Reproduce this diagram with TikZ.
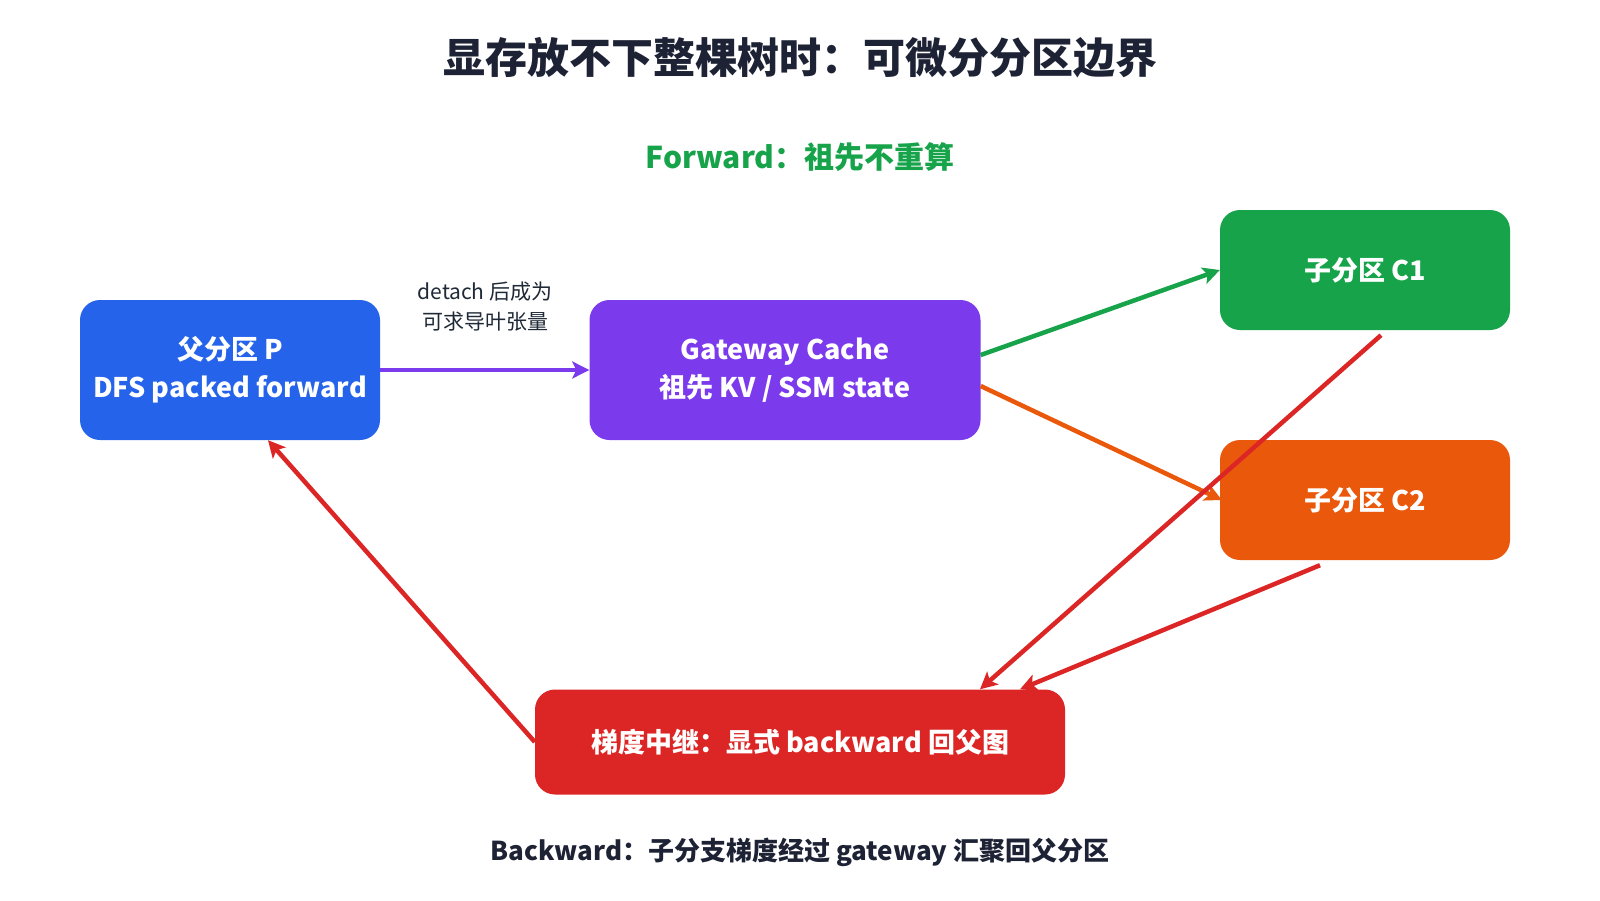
\documentclass[tikz,border=0pt]{standalone}
\usepackage{fontspec}
\setmainfont{Noto Sans CJK SC}
\usetikzlibrary{arrows.meta,calc}
\definecolor{cblue}{HTML}{2563EB}
\definecolor{cpurple}{HTML}{7C3AED}
\definecolor{cgreen}{HTML}{16A34A}
\definecolor{corange}{HTML}{EA580C}
\definecolor{cred}{HTML}{DC2626}
\definecolor{ctitle}{HTML}{1E2235}
\definecolor{clabel}{HTML}{1F2937}
\tikzset{
  box/.style={rounded corners=20pt, draw=none, text=white, align=center,
    font=\bfseries\fontsize{27}{38}\selectfont, inner sep=0pt},
  conn/.style={line width=4.5pt, -{Stealth[length=17pt,width=17pt,inset=4pt]}},
}
\begin{document}
\begin{tikzpicture}[x=1pt,y=-1pt]
\fill[white] (0,0) rectangle (1600,900);
\useasboundingbox (0,0) rectangle (1600,900);

\node[text=ctitle, font=\bfseries\fontsize{42}{50}\selectfont] (title) at (800,58) {显存放不下整棵树时：可微分分区边界};
\node[text=cgreen, font=\bfseries\fontsize{30}{36}\selectfont] (fwd) at (800,157) {Forward：祖先不重算};

\node[box, fill=cblue, minimum width=300pt, minimum height=140pt] (p) at (230,370) {父分区 P\\DFS packed forward};
\node[box, fill=cpurple, minimum width=391pt, minimum height=140pt] (g) at (785,370) {Gateway Cache\\祖先 KV / SSM state};
\node[box, fill=cgreen, minimum width=290pt, minimum height=120pt] (c1) at (1365,270) {子分区 C1};
\node[box, fill=corange, minimum width=290pt, minimum height=120pt] (c2) at (1365,500) {子分区 C2};
\node[box, fill=cred, minimum width=530pt, minimum height=105pt] (r) at (800,742) {梯度中继：显式 backward 回父图};

\node[text=clabel, align=center, font=\fontsize{21}{30}\selectfont] (lbl) at (485,307) {detach 后成为\\可求导叶张量};

\node[text=ctitle, font=\bfseries\fontsize{26}{32}\selectfont] (bwd) at (800,852) {Backward：子分支梯度经过 gateway 汇聚回父分区};

\draw[conn, cpurple] (p.east) -- (g.west);
\draw[conn, cgreen] ($(g.east)+(0,-15)$) -- (c1.west);
\draw[conn, corange] ($(g.east)+(0,16)$) -- ($(c2.west)+(2,0)$);
\draw[conn, cred] ($(c1.south)+(16,5)$) -- ($(r.north)+(180,0)$);
\draw[conn, cred] ($(c2.south)+(-45,5)$) -- ($(r.north)+(220,0)$);
\draw[conn, cred] (r.west) -- ($(p.south)+(38,0)$);
\end{tikzpicture}
\end{document}
